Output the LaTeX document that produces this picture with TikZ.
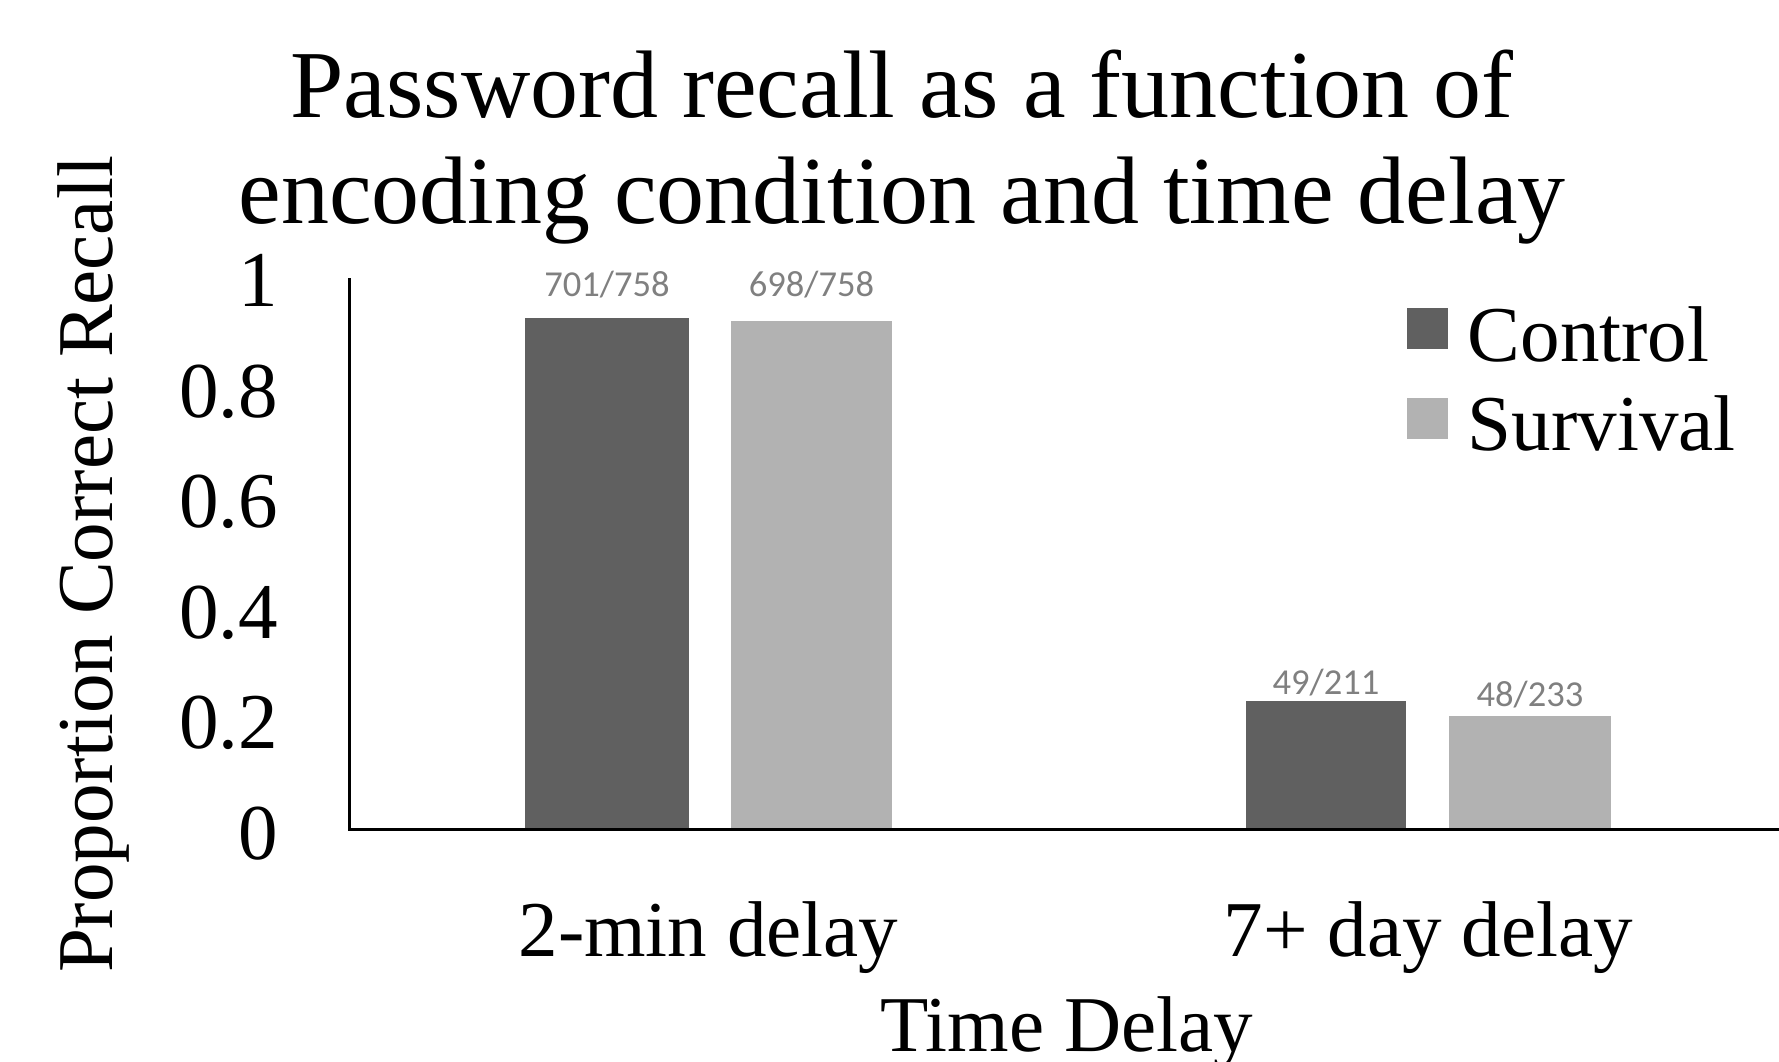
\documentclass[tikz,border=0pt]{standalone}
\usepackage{fontspec}
\setmainfont{Liberation Serif}
\newfontfamily\countfont{Carlito}
\usetikzlibrary{positioning}
\definecolor{ctrlgray}{RGB}{96,96,96}
\definecolor{survgray}{RGB}{178,178,178}
\definecolor{countgray}{RGB}{128,128,128}

\begin{document}
\begin{tikzpicture}[
    ticklabel/.style={font=\fontsize{22.5}{27}\selectfont, anchor=base east, inner sep=0pt},
    axislabel/.style={font=\fontsize{22.5}{27}\selectfont, anchor=base, inner sep=0pt},
    countlabel/.style={font=\countfont\fontsize{10.4}{12}\selectfont, text=countgray, anchor=base, inner sep=0pt},
    keybox/.style={minimum size=0.41cm, inner sep=0pt},
  ]
  \useasboundingbox (0,0) rectangle (17.79,10.61);
  \coordinate (origin) at (3.495,2.316);
  \coordinate (ytop) at (3.495,7.83);
  \coordinate (xend) at (17.79,2.316);

  % bars, value v sits at 2.316 + 5.526 v
  \fill[ctrlgray] (5.25,2.316) rectangle (6.89,7.426);
  \fill[survgray] (7.31,2.316) rectangle (8.92,7.404);
  \fill[ctrlgray] (12.46,2.316) rectangle (14.06,3.599);
  \fill[survgray] (14.49,2.316) rectangle (16.11,3.454);

  \node[countlabel] (cnt1) at (6.07,7.643) {701/758};
  \node[countlabel] (cnt2) at (8.115,7.643) {698/758};
  \node[countlabel] (cnt3) at (13.26,3.67) {49/211};
  \node[countlabel] (cnt4) at (15.30,3.543) {48/233};

  \draw[line width=0.7pt] (ytop) -- (origin) -- (xend);

  \node[ticklabel] (t0) at (2.79,2.016) {0};
  \node[ticklabel] (t2) at (2.79,3.121) {0.2};
  \node[ticklabel] (t4) at (2.79,4.226) {0.4};
  \node[ticklabel] (t6) at (2.79,5.332) {0.6};
  \node[ticklabel] (t8) at (2.79,6.437) {0.8};
  \node[ticklabel] (t10) at (2.79,7.542) {1};

  \node[axislabel] (cat1) at (7.085,1.045) {2-min delay};
  \node[axislabel] (cat2) at (14.285,1.045) {7+ day delay};
  \node[axislabel] (xtitle) at (10.665,0.10) {Time Delay};
  \node[axislabel, rotate=90] (ytitle) at (1.12,4.965) {Proportion Correct Recall};

  \node[font=\fontsize{27.3}{30}\selectfont, anchor=base, inner sep=0pt]
      (titletop) at (9.02,9.44) {Password recall as a function of};
  \node[font=\fontsize{27.3}{30}\selectfont, anchor=base, inner sep=0pt]
      (titlebot) at (9.02,8.375) {encoding condition and time delay};

  % legend
  \node[keybox, fill=ctrlgray] (keyctrl) at (14.275,7.325) {};
  \node[keybox, fill=survgray] (keysurv) at (14.275,6.43) {};
  \node[font=\fontsize{22.5}{27}\selectfont, anchor=base west, inner sep=0pt]
      (txtctrl) at (14.67,7.0) {Control};
  \node[font=\fontsize{22.5}{27}\selectfont, anchor=base west, inner sep=0pt]
      (txtsurv) at (14.67,6.105) {Survival};
\end{tikzpicture}
\end{document}
